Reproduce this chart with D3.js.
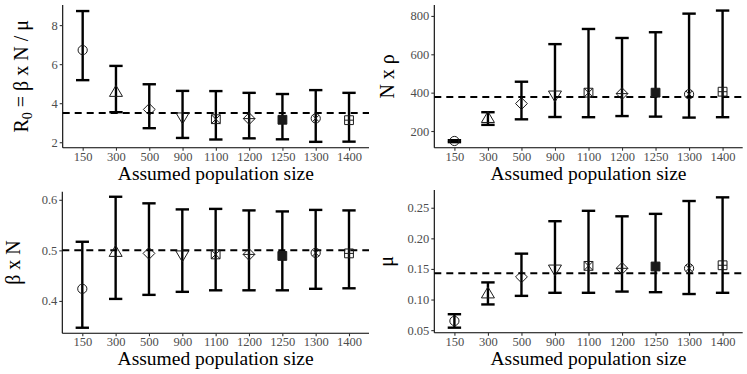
<!DOCTYPE html>
<html>
<head>
<meta charset="utf-8">
<script src="https://cdn.jsdelivr.net/npm/d3@7"></script>
<style>
  body { margin: 0; background: #fff; }
  text { font-family: "Liberation Serif", "DejaVu Serif", serif; }
</style>
</head>
<body>
<div id="chart"></div>
<script>
// DATA
// ------------------------------------------------------------------

var sizes = ["150", "300", "500", "900", "1100", "1200", "1250", "1300", "1400"];
var shapes = ["circle", "triangle", "diamond", "triangleDown", "squareX",
              "diamondPlus", "squareFilled", "circleX", "squarePlus"];

// R0 = beta x N / mu
var r0Est = [6.72, 4.58, 3.68, 3.27, 3.18, 3.21, 3.15, 3.22, 3.13];
var r0Low = [5.18, 3.54, 2.72, 2.22, 2.14, 2.2, 2.15, 2.02, 2.03];
var r0High = [8.72, 5.91, 4.97, 4.63, 4.62, 4.53, 4.47, 4.67, 4.53];
var r0Ref = 3.5;
var r0Ticks = [2, 4, 6, 8];

// N x rho
var nrEst = [148, 268, 343, 385, 400, 395, 400, 392, 405];
var nrLow = [142, 232, 261, 273, 272, 278, 275, 270, 272];
var nrHigh = [152, 298, 457, 653, 732, 685, 715, 812, 828];
var nrRef = 377;
var nrTicks = [200, 400, 600, 800];

// beta x N
var bnEst = [0.424, 0.497, 0.494, 0.49, 0.492, 0.492, 0.489, 0.495, 0.494];
var bnLow = [0.347, 0.404, 0.412, 0.418, 0.421, 0.421, 0.421, 0.424, 0.425];
var bnHigh = [0.517, 0.606, 0.593, 0.581, 0.582, 0.579, 0.577, 0.58, 0.579];
var bnRef = 0.5;
var bnTicks = [0.4, 0.5, 0.6];

// mu
var muEst = [0.065, 0.11, 0.137, 0.149, 0.155, 0.151, 0.154, 0.151, 0.156];
var muLow = [0.054, 0.092, 0.106, 0.111, 0.111, 0.113, 0.112, 0.109, 0.111];
var muHigh = [0.076, 0.128, 0.175, 0.228, 0.245, 0.236, 0.24, 0.261, 0.267];
var muRef = 0.1429;
var muTicks = [0.05, 0.10, 0.15, 0.20, 0.25];

// CANVAS
// ------------------------------------------------------------------

var width = 747,
    height = 374;

var svg = d3.select("#chart")
    .append("svg")
    .attr("width", width)
    .attr("height", height);

// PANELS
// ------------------------------------------------------------------

var panels = [
  { x0: 62.7, x1: 369, y0: 5, y1: 147.7, dom: [1.72, 9.03], ticks: r0Ticks, fmt: d3.format("d"),
    est: r0Est, low: r0Low, high: r0High, ref: r0Ref, title: "r0", titleX: 28 },
  { x0: 434.3, x1: 742.7, y0: 5, y1: 147.7, dom: [113, 857], ticks: nrTicks, fmt: d3.format("d"),
    est: nrEst, low: nrLow, high: nrHigh, ref: nrRef, title: "N x ρ", titleX: 394 },
  { x0: 62.3, x1: 369, y0: 191.7, y1: 333.3, dom: [0.336, 0.616], ticks: bnTicks, fmt: d3.format(".1f"),
    est: bnEst, low: bnLow, high: bnHigh, ref: bnRef, title: "β x N", titleX: 20 },
  { x0: 434.3, x1: 742.7, y0: 190, y1: 332.7, dom: [0.0458, 0.279], ticks: muTicks, fmt: d3.format(".2f"),
    est: muEst, low: muLow, high: muHigh, ref: muRef, title: "μ", titleX: 393 }
];

function drawShape(g, type, cx, cy) {
  var col = "#1a1a1a", sw = 1;
  var r = 4.6, d = 5.9, s = 4.4;
  function poly(pts, fill) {
    g.append("polygon")
      .attr("points", pts.map(function(p) { return (cx + p[0]) + "," + (cy + p[1]); }).join(" "))
      .attr("fill", fill || "none").attr("stroke", col).attr("stroke-width", sw);
  }
  function seg(ax, ay, bx, by) {
    g.append("line")
      .attr("x1", cx + ax).attr("y1", cy + ay).attr("x2", cx + bx).attr("y2", cy + by)
      .attr("stroke", col).attr("stroke-width", sw);
  }
  if (type === "circle" || type === "circleX") {
    g.append("circle").attr("cx", cx).attr("cy", cy).attr("r", r)
      .attr("fill", "none").attr("stroke", col).attr("stroke-width", sw);
    if (type === "circleX") {
      var k = r * 0.707;
      seg(-k, -k, k, k); seg(-k, k, k, -k);
    }
  } else if (type === "triangle") {
    poly([[0, -6.5], [6.5, 4.5], [-6.5, 4.5]]);
  } else if (type === "triangleDown") {
    poly([[0, 6.5], [6.5, -4.5], [-6.5, -4.5]]);
  } else if (type === "diamond" || type === "diamondPlus") {
    poly([[0, -d], [d, 0], [0, d], [-d, 0]]);
    if (type === "diamondPlus") { seg(-d, 0, d, 0); seg(0, -d, 0, d); }
  } else if (type === "squareFilled") {
    poly([[-s, -s], [s, -s], [s, s], [-s, s]], col);
  } else {
    poly([[-s, -s], [s, -s], [s, s], [-s, s]]);
    if (type === "squareX") { seg(-s, -s, s, s); seg(-s, s, s, -s); }
    else { seg(-s, 0, s, 0); seg(0, -s, 0, s); }
  }
}

panels.forEach(function(p) {
  var g = svg.append("g");

  var x = d3.scalePoint().domain(sizes).range([p.x0, p.x1]).padding(0.6);
  var y = d3.scaleLinear().domain(p.dom).range([p.y1, p.y0]);

  // axes
  var xAxis = d3.axisBottom(x).tickSize(3).tickPadding(1);
  var yAxis = d3.axisLeft(y).tickValues(p.ticks).tickFormat(p.fmt).tickSize(3).tickPadding(2);

  var gx = g.append("g").attr("transform", "translate(0," + p.y1 + ")").call(xAxis);
  var gy = g.append("g").attr("transform", "translate(" + p.x0 + ",0)").call(yAxis);
  [gx, gy].forEach(function(a) {
    a.select(".domain").attr("stroke", "#000").attr("stroke-width", 1.1);
    a.selectAll(".tick line").attr("stroke", "#333").attr("stroke-width", 1.1);
    a.selectAll(".tick text").attr("fill", "#4d4d4d").style("font-size", "12.5px")
      .style("font-family", "'Liberation Serif', serif");
  });
  gy.select(".domain").attr("d", "M0," + p.y1 + "V" + p.y0);
  gx.select(".domain").attr("d", "M" + p.x0 + ",0H" + p.x1);

  // error bars
  var cap = x.step() * 0.2;
  sizes.forEach(function(s, i) {
    var cx = x(s);
    var eb = g.append("g").attr("stroke", "#000").attr("stroke-width", 2.4).attr("fill", "none");
    eb.append("line").attr("x1", cx).attr("x2", cx).attr("y1", y(p.low[i])).attr("y2", y(p.high[i]));
    eb.append("line").attr("x1", cx - cap).attr("x2", cx + cap).attr("y1", y(p.low[i])).attr("y2", y(p.low[i]));
    eb.append("line").attr("x1", cx - cap).attr("x2", cx + cap).attr("y1", y(p.high[i])).attr("y2", y(p.high[i]));
  });

  // reference line
  g.append("line")
    .attr("x1", p.x0).attr("x2", p.x1)
    .attr("y1", y(p.ref)).attr("y2", y(p.ref))
    .attr("stroke", "#000").attr("stroke-width", 2)
    .attr("stroke-dasharray", "7,5");

  // points
  sizes.forEach(function(s, i) {
    drawShape(g, shapes[i], x(s), y(p.est[i]));
  });

  // x title
  g.append("text")
    .attr("x", (p.x0 + p.x1) / 2)
    .attr("y", p.y1 + 32)
    .attr("text-anchor", "middle")
    .style("font-size", "19.5px")
    .text("Assumed population size");

  // y title
  var cy = (p.y0 + p.y1) / 2;
  var t = g.append("text")
    .attr("transform", "translate(" + p.titleX + "," + cy + ") rotate(-90)")
    .attr("text-anchor", "middle")
    .style("font-size", "20px");
  if (p.title === "r0") {
    t.append("tspan").text("R");
    t.append("tspan").attr("dy", 4).style("font-size", "14px").text("0");
    t.append("tspan").attr("dy", -4).text(" = β x N / μ");
  } else {
    t.text(p.title);
  }
});
</script>
</body>
</html>
